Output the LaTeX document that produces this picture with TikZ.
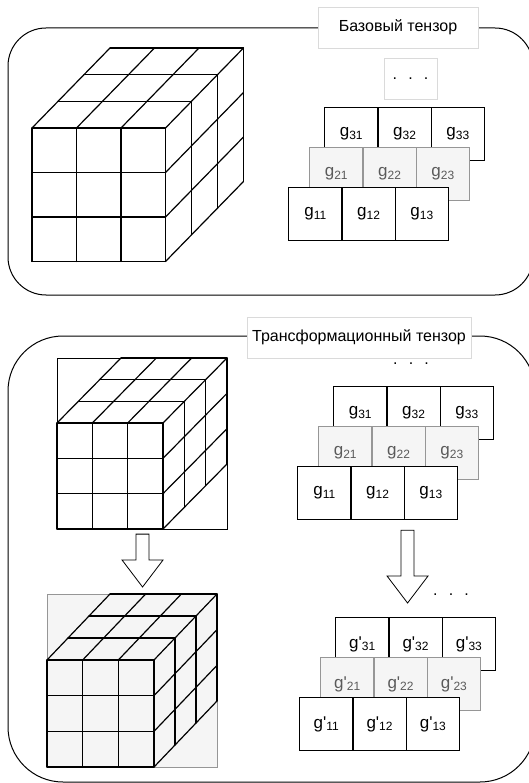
\documentclass[tikz,border=0pt]{standalone}
\usepackage{fontspec}
\setmainfont{Liberation Sans}
\usetikzlibrary{calc}
\definecolor{cellfill}{RGB}{245,245,245}
\definecolor{midline}{RGB}{150,150,150}
\definecolor{midtext}{RGB}{90,90,90}
\definecolor{tagline}{RGB}{218,218,218}
\newcommand{\idx}[1]{\raisebox{-0.3ex}{\fontsize{12}{12}\selectfont #1}}
\tikzset{
  groupframe/.style={draw, line width=1pt, rounded corners=#1},
  tagbox/.style={draw=tagline, fill=white, inner sep=0pt, minimum height=41pt, font=\fontsize{16}{18}\selectfont},
  dotsbox/.style={tagbox, minimum width=53pt},
  dotsnode/.style={anchor=base, inner sep=0pt, font=\fontsize{16}{18}\selectfont},
  gcell/.style={draw, line width=1.2pt, fill=white, anchor=north west, inner sep=0pt, minimum width=53.3pt, minimum height=53pt, font=\fontsize{17}{19}\selectfont},
  midcell/.style={gcell, draw=midline, fill=cellfill, text=midtext},
  cubeline/.style={line width=1.2pt, line cap=round},
  cubebox/.style={draw, line width=1.1pt, anchor=north west, inner sep=0pt},
  blockarrow/.style={draw, line width=0.8pt, fill=white, line join=miter}
}
% 3x3x3 cube: front top-left corner, edge, depth shift
\newcommand{\cubegrid}[5]{%
  \foreach \i in {0,1,2,3}{
    \draw[cubeline] ({#1+\i*#3/3},#2) -- ++(0,#3);
    \draw[cubeline] (#1,{#2+\i*#3/3}) -- ++(#3,0);
    \draw[cubeline] ({#1+\i*#3/3},#2) -- ++(#4,#5);
  }
  \foreach \i in {1,2,3}{
    \draw[cubeline] ({#1+\i*#4/3},{#2+\i*#5/3}) -- ++(#3,0);
    \draw[cubeline] ({#1+#3+\i*#4/3},{#2+\i*#5/3}) -- ++(0,#3);
    \draw[cubeline] ({#1+#3},{#2+\i*#3/3}) -- ++(#4,#5);
  }}
% three rows of cells, back row first
\newcommand{\gstack}[4]{%
  \foreach \c in {1,2,3}
    \node[gcell] (#1-3\c) at ({#2+36+(\c-1)*53.3},{#3-80}) {#4\idx{3\c}};
  \foreach \c in {1,2,3}
    \node[midcell] (#1-2\c) at ({#2+21+(\c-1)*53.3},{#3-40}) {#4\idx{2\c}};
  \foreach \c in {1,2,3}
    \node[gcell] (#1-1\c) at ({#2+(\c-1)*53.3},#3) {#4\idx{1\c}};
}
\newcommand{\blockdown}[2]{%
  \draw[blockarrow] let \p1=#1, \p2=#2 in
    (\x1-6.5pt,\y1) -- (\x1-6.5pt,\y2+27pt) -- (\x1-20.5pt,\y2+27pt) -- (\x1,\y2)
    -- (\x1+20.5pt,\y2+27pt) -- (\x1+6.5pt,\y2+27pt) -- (\x1+6.5pt,\y1) -- cycle;}

\begin{document}
\begin{tikzpicture}[x=1pt, y=-1pt]
  \useasboundingbox (0,0) rectangle (529,783);
  \clip (0,0) rectangle (529,783);

  % base tensor
  \draw[groupframe=38pt] (8,28) rectangle (533,295);
  \node[tagbox, minimum width=160pt] (basetag) at (398,27.5) {Базовый тензор};
  \cubegrid{32}{128}{133.5}{78}{-80}
  \node[dotsbox] (basedots) at (410.5,78.5) {.\hspace{0.7em}.\hspace{0.7em}.};
  \gstack{b}{288}{187}{g}

  % transformation tensor
  \draw[groupframe=55pt] (8,336) rectangle (535,782);
  \node[tagbox, minimum width=224pt] (transtag) at (359,337.5) {Трансформационный тензор};

  \node[cubebox, minimum width=170pt, minimum height=171pt] (srccube) at (57,358) {};
  \cubegrid{57}{423}{106}{64}{-65}
  \node[cubebox, draw=midline, fill=cellfill, minimum width=170pt, minimum height=173pt] (dstcube) at (47,594) {};
  \cubegrid{47}{660}{107}{63}{-66}

  \node[dotsnode] (srcdots) at (411,364) {.\hspace{0.7em}.\hspace{0.7em}.};
  \gstack{s}{297}{466}{g}
  \node[dotsnode] (dstdots) at (451,595) {.\hspace{0.7em}.\hspace{0.7em}.};
  \gstack{d}{299}{697}{g\textquotesingle}

  \coordinate (srcout) at ($(srccube.south)+(0,4)$);
  \coordinate (dstin) at ($(srccube.south |- dstcube.north)+(0,-7)$);
  \blockdown{(srcout)}{(dstin)}
  \coordinate (stackout) at ($(s-12.south)+(30,10)$);
  \coordinate (stackin) at ($(stackout |- d-32.north)+(0,-14)$);
  \blockdown{(stackout)}{(stackin)}
\end{tikzpicture}
\end{document}
